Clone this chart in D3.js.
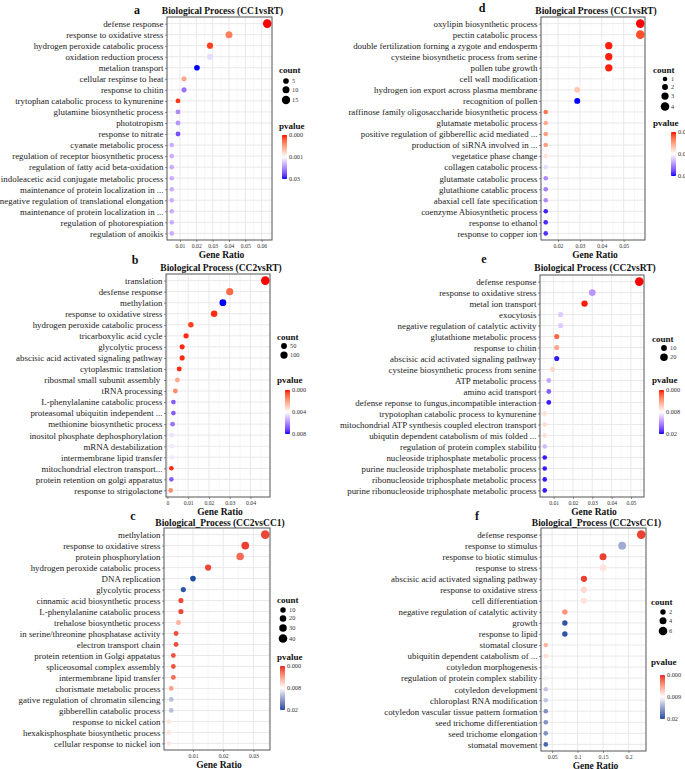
<!DOCTYPE html>
<html><head><meta charset="utf-8">
<script src="https://cdn.jsdelivr.net/npm/d3@7"></script>
<style>body{margin:0;background:#fff} svg{display:block;overflow:hidden} text{white-space:pre}</style>
</head><body><svg id="chart" width="685" height="769"></svg>
<script>
// ---------------- DATA ----------------
const catsA = ["defense response","response to oxidative stress","hydrogen peroxide catabolic process","oxidation reduction process","metalion transport","cellular respinse to heat","response to chitin","trytophan catabolic process to kynurenine","glutamine biosynthetic process","phototropism","response to nitrate","cyanate metabolic process","regulation of receptor biosynthetic process","regulation of fatty acid beta-oxidation","indoleacetic acid conjugate metabolic process","maintenance of protein localization in ...","negative regulation of translational elongation","maintenance of protein localization in ...","regulation of photorespiation","regulation of anoikis"];
const ratioA = [0.0634,0.0400,0.0284,0.0284,0.0204,0.0125,0.0125,0.0088,0.0088,0.0088,0.0088,0.0050,0.0050,0.0050,0.0050,0.0050,0.0050,0.0050,0.0050,0.0050];
const countA = [16,10,7,7,5,3,3,2,2,2,2,1,1,1,1,1,1,1,1,1];
const pvalA = [0.0000,0.00035,0.0001,0.0054,0.0300,0.00055,0.0184,0.00008,0.0155,0.0140,0.0228,0.011,0.011,0.011,0.011,0.011,0.011,0.011,0.011,0.011];
const xTicksA = [0.01,0.02,0.03,0.04,0.05,0.06];
const pDomainA = [0,0.001,0.03];
const pLabelsA = ["0.000","0.001","0.03"];
const countLegA = [5,10,15];

const catsB = ["translation","desfense response","methylation","response to oxidative stress","hydrogen peroxide catabolic process","tricarboxylic acid cycle","glycolytic process","abscisic acid activated signaling pathway","cytoplasmic translation","ribosmal small subunit assembly ","tRNA processing","L-phenylalanine catabolic process","proteasomal ubiquitin independent ...","methionine biosynthetic process","inositol phosphate dephosphorylation","mRNA destabilization","intermembrane lipid transfer","mitochondrial electron transport...","protein retention on golgi apparatus","response to strigolactone"];
const ratioB = [0.0471,0.0300,0.0267,0.0225,0.0113,0.0090,0.0071,0.0071,0.0057,0.0048,0.0038,0.0029,0.0029,0.0025,0.0021,0.0021,0.0021,0.0019,0.0019,0.0016];
const countB = [147,94,83,70,35,28,22,22,18,15,12,9,9,8,7,7,7,6,6,5];
const pvalB = [0.0000,0.0010,0.0080,0.0002,0.0004,0.0002,0.0002,0.0002,0.0002,0.0022,0.0016,0.0068,0.0068,0.0064,0.0045,0.0044,0.0044,0.0002,0.0068,0.0016];
const xTicksB = [0,0.01,0.02,0.03,0.04];
const pDomainB = [0,0.004,0.008];
const pLabelsB = ["0.000","0.004","0.008"];
const countLegB = [50,100];

const catsC = ["methylation","response to oxidative stress","protein phosphorylation","hydrogen peroxide catabolic process","DNA replication","glycolytic process","cinnamic acid biosynthetic process","L-phenylalanine catabolic process","trehalose biosynthetic process","in serine/threonine phosphatase activity","electron transport chain","protein retention in Golgi appatatus","spliceosomal complex assembly","intermembrane lipid transfer","chorismate metabolic process","gative regulation of chromatin silencing","gibberellin catabolic process","response to nickel cation","hexakisphosphate biosynthetic process","cellular response to nickel ion"];
const ratioC = [0.0339,0.0273,0.0256,0.0150,0.0100,0.0068,0.0060,0.0060,0.0052,0.0044,0.0044,0.0035,0.0035,0.0035,0.0028,0.0028,0.0028,0.0020,0.0020,0.0020];
const countC = [40,32,30,18,12,8,7,7,6,5,5,4,4,4,3,3,3,2,2,2];
const pvalC = [0.0008,0.0006,0.0020,0.0008,0.0200,0.0194,0.0008,0.0008,0.0048,0.0010,0.0010,0.0012,0.0012,0.0020,0.0040,0.0122,0.0122,0.0070,0.0070,0.0070];
const xTicksC = [0.01,0.02,0.03];
const pDomainC = [0,0.008,0.02];
const pLabelsC = ["0.000","0.008","0.02"];
const countLegC = [10,20,30,40];

const catsD = ["oxylipin biosynthetic process","pectin catabolic process","double fertilization forning a zygote and endosperm","cysteine biosynthetic process from serine","pollen tube growth","cell wall modification","hydrogen ion export across plasma membrane","recognition of pollen","raffinose family oligosaccharide biosynthetic process","glutamate metabolic process","positive regulation of gibberellic acid mediated ...","production of siRNA involved in ...","vegetatice phase change","collagen catabolic process","glutamate catabolic process","glutathione catablic process","abaxial cell fate specification","coenzyme Abiosynthetic process","response to ethanol","response to copper ion"];
const ratioD = [0.0576,0.0576,0.0432,0.0432,0.0432,0.0432,0.0288,0.0288,0.0144,0.0144,0.0144,0.0144,0.0144,0.0144,0.0144,0.0144,0.0144,0.0144,0.0144,0.0144];
const countD = [4,4,3,3,3,3,2,2,1,1,1,1,1,1,1,1,1,1,1,1];
const pvalD = [0.0000,0.0030,0.0006,0.0006,0.0006,0.0200,0.0140,0.0300,0.0060,0.0110,0.0100,0.0100,0.0170,0.0215,0.0250,0.0255,0.0250,0.0292,0.0290,0.0288];
const xTicksD = [0.02,0.03,0.04,0.05];
const pDomainD = [0,0.02,0.03];
const pLabelsD = ["0.000","0.02","0.03"];
const countLegD = [1,2,3,4];

const catsE = ["defense response","response to oxidative stress","metal ion transport","exocytosis","negative regulation of catalytic activity","glutathione metabolic process","response to chitin","abscisic acid activated signaling pathway","cysteine biosynthetic process from senine","ATP metabolic process","amino acid transport","defense reponse to fungus,incompatible interaction","trypotophan catabolic process to kynurenine","mitochondrial ATP synthesis coupled electron transport","ubiqutin dependent catabolism of mis folded ...","regulation of protein complex stabilitu","nucleoside triphosphate metabolic process","purine nucleoside triphosphate metabolic process","ribonucleoside triphosphate metabolic process","purine ribonucleoside triphosphate metabolic process"];
const ratioE = [0.0543,0.0300,0.0260,0.0136,0.0136,0.0116,0.0116,0.0116,0.0095,0.0075,0.0075,0.0075,0.0054,0.0054,0.0054,0.0054,0.0054,0.0054,0.0054,0.0054];
const countE = [26,15,13,7,7,6,6,6,5,4,4,4,3,3,3,3,3,3,3,3];
const pvalE = [0.0000,0.0134,0.0002,0.0106,0.0106,0.0020,0.0044,0.0194,0.0062,0.0126,0.0164,0.0194,0.0066,0.0066,0.0066,0.0116,0.0194,0.0194,0.0194,0.0194];
const xTicksE = [0.01,0.02,0.03,0.04,0.05];
const pDomainE = [0,0.008,0.02];
const pLabelsE = ["0.000","0.008","0.02"];
const countLegE = [10,20];

const catsF = ["defense response","response to stimulus","response to biotic stimulus","response to stress","abscisic acid activated signaling pathway","response to oxidative stress","cell differentiation","negative regulation of catalytic activity","growth","response to lipid","stomatal closure","ubiquitin dependent catabolism of ...","cotyledon morphogenesis","regulation of protein complex stability","cotyledon development","chloroplast RNA modification","cotyledon vascular tissue pattern formation","seed trichome differentiation","seed trichome elongation","stomatal movement"];
const ratioF = [0.2250,0.1875,0.1500,0.1500,0.1125,0.1125,0.1125,0.0750,0.0750,0.0750,0.0375,0.0375,0.0375,0.0375,0.0375,0.0375,0.0375,0.0375,0.0375,0.0375];
const countF = [6,5,4,4,3,3,3,2,2,2,1,1,1,1,1,1,1,1,1,1];
const pvalF = [0.0007,0.0140,0.0007,0.0077,0.0007,0.0072,0.0077,0.0040,0.0195,0.0195,0.0054,0.0074,0.0099,0.0097,0.0123,0.0123,0.0156,0.0156,0.0156,0.0184];
const xTicksF = [0.05,0.1,0.15,0.2];
const pDomainF = [0,0.009,0.02];
const pLabelsF = ["0.000","0.009","0.02"];
const countLegF = [2,4,6];

const titles = ["Biological Process (CC1vsRT)","Biological Process (CC2vsRT)","Biological_Process (CC2vsCC1)","Biological Process (CC1vsRT)","Biological Process (CC2vsRT)","Biological_Process (CC2vsCC1)"];
const letters = ["a","b","c","d","e","f"];

// ---------------- LAYOUT / STYLE ----------------
const SERIF = "'Liberation Serif','Times New Roman',serif";
const pureRB = ["#FF0000","#0000FF"];
const mutedRB = ["#E52521","#1D4E9E"];

const panels = [
  {cats:catsA, ratio:ratioA, count:countA, pval:pvalA, xt:xTicksA, pd:pDomainA, pl:pLabelsA, cl:countLegA, col:pureRB,
   L:{left:167,right:272,top:17,bottom:240, lx:279, ctY:73, dcx:286, d0:81, ptY:129, bx:282, bt:135, letter:[137,14], titleY:14}},
  {cats:catsB, ratio:ratioB, count:countB, pval:pvalB, xt:xTicksB, pd:pDomainB, pl:pLabelsB, cl:countLegB, col:pureRB,
   L:{left:166,right:270,top:274,bottom:497, lx:277, ctY:340, dcx:284, d0:346, ptY:383, bx:285, bt:390, letter:[135,264], titleY:271}},
  {cats:catsC, ratio:ratioC, count:countC, pval:pvalC, xt:xTicksC, pd:pDomainC, pl:pLabelsC, cl:countLegC, col:mutedRB,
   L:{left:164,right:270,top:528,bottom:750, lx:277, ctY:603, dcx:283, d0:610, ptY:660, bx:280, bt:666, letter:[133,520], titleY:526}},
  {cats:catsD, ratio:ratioD, count:countD, pval:pvalD, xt:xTicksD, pd:pDomainD, pl:pLabelsD, cl:countLegD, col:pureRB,
   L:{left:541,right:645,top:17,bottom:240, lx:653, ctY:73, dcx:665, d0:79, ptY:126, bx:671, bt:132, letter:[482,12], titleY:14}},
  {cats:catsE, ratio:ratioE, count:countE, pval:pvalE, xt:xTicksE, pd:pDomainE, pl:pLabelsE, cl:countLegE, col:pureRB,
   L:{left:540,right:644,top:275,bottom:497, lx:652, ctY:342, dcx:664, d0:348, ptY:383, bx:659, bt:390, letter:[484,263], titleY:271}},
  {cats:catsF, ratio:ratioF, count:countF, pval:pvalF, xt:xTicksF, pd:pDomainF, pl:pLabelsF, cl:countLegF, col:mutedRB,
   L:{left:541,right:646,top:528,bottom:751, lx:651, ctY:605, dcx:663, d0:612, ptY:665, bx:660, bt:675, letter:[477,520], titleY:526}}
];

const svg = d3.select("#chart");
const defs = svg.append("defs");
svg.append("rect").attr("width",685).attr("height",769).attr("fill","#fff");

panels.forEach((P, pi) => {
  const L = P.L;
  const g = svg.append("g");
  const n = P.cats.length;
  const ext = d3.extent(P.ratio);
  const pad = (ext[1]-ext[0])*0.05;
  const x = d3.scaleLinear().domain([ext[0]-pad, ext[1]+pad]).range([L.left, L.right]);
  const y = d3.scalePoint().domain(d3.range(n)).range([L.top, L.bottom]).padding(0.6);
  const cext = d3.extent(P.count);
  const dMin = 4.6, dMax = 8.6;
  const diam = c => dMin + (dMax-dMin)*((c-cext[0])/(cext[1]-cext[0]||1));
  const color = d3.scaleLinear().domain(P.pd).range([P.col[0],"#FFFFFF",P.col[1]]).interpolate(d3.interpolateLab).clamp(true);

  g.append("rect").attr("x",L.left).attr("y",L.top).attr("width",L.right-L.left).attr("height",L.bottom-L.top).attr("fill","#fff");
  const xd = x.domain();
  const minors = [];
  const step = P.xt[1]-P.xt[0];
  for (let i=-1;i<P.xt.length;i++){
    const m = (i<0? P.xt[0]-step/2 : P.xt[i]+step/2);
    if (m>xd[0] && m<xd[1]) minors.push(m);
  }
  g.selectAll(".minor").data(minors).join("line")
    .attr("x1",d=>x(d)).attr("x2",d=>x(d)).attr("y1",L.top).attr("y2",L.bottom)
    .attr("stroke","#f2f2f2").attr("stroke-width",0.6);
  g.selectAll(".majorx").data(P.xt.filter(t=>t>xd[0]&&t<xd[1])).join("line")
    .attr("x1",d=>x(d)).attr("x2",d=>x(d)).attr("y1",L.top).attr("y2",L.bottom)
    .attr("stroke","#e6e6e6").attr("stroke-width",0.9);
  g.selectAll(".majory").data(d3.range(n)).join("line")
    .attr("x1",L.left).attr("x2",L.right).attr("y1",d=>y(d)).attr("y2",d=>y(d))
    .attr("stroke","#e6e6e6").attr("stroke-width",0.9);

  g.selectAll("circle.pt").data(d3.range(n)).join("circle")
    .attr("cx",i=>x(P.ratio[i])).attr("cy",i=>y(i))
    .attr("r",i=>diam(P.count[i])/2).attr("fill",i=>color(P.pval[i]));

  g.append("rect").attr("x",L.left).attr("y",L.top).attr("width",L.right-L.left).attr("height",L.bottom-L.top)
    .attr("fill","none").attr("stroke","#555").attr("stroke-width",1);

  const xa = g.append("g").attr("transform",`translate(0,${L.bottom})`)
    .call(d3.axisBottom(x).tickValues(P.xt).tickSize(2).tickPadding(2).tickFormat(d=>String(+d.toFixed(4))));
  xa.select(".domain").remove();
  xa.selectAll("line").attr("stroke","#444").attr("stroke-width",0.6);
  xa.selectAll("text").attr("font-family",SERIF).attr("font-size",5.7).attr("fill","#333");

  const ya = g.append("g").attr("transform",`translate(${L.left},0)`)
    .call(d3.axisLeft(y).tickSize(2).tickPadding(1.5).tickFormat(i=>P.cats[i]));
  ya.select(".domain").remove();
  ya.selectAll("line").attr("stroke","#444").attr("stroke-width",0.6);
  ya.selectAll("text").attr("font-family",SERIF).attr("font-size",8.9).attr("fill","#1a1a1a");

  const cx = (L.left+L.right)/2;
  g.append("text").attr("x",cx+2).attr("y",L.bottom+18).attr("text-anchor","middle")
    .attr("font-family",SERIF).attr("font-weight","bold").attr("font-size",9.5).attr("fill","#111").text("Gene Ratio");
  g.append("text").attr("x",cx+3).attr("y",L.titleY).attr("text-anchor","middle")
    .attr("font-family",SERIF).attr("font-weight","bold").attr("font-size",9.5).attr("fill","#111").text(titles[pi]);
  g.append("text").attr("x",L.letter[0]).attr("y",L.letter[1]).attr("text-anchor","middle")
    .attr("font-family",SERIF).attr("font-weight","bold").attr("font-size",12).attr("fill","#111").text(letters[pi]);

  g.append("text").attr("x",L.lx).attr("y",L.ctY).attr("font-family",SERIF).attr("font-weight","bold")
    .attr("font-size",9).attr("fill","#111").text("count");
  let yy = L.d0, prevR = null;
  P.cl.forEach((c,k) => {
    const r = diam(c)/2;
    if (prevR!==null) yy += Math.max(8, prevR + r + 2.5);
    g.append("circle").attr("cx",L.dcx).attr("cy",yy).attr("r",r).attr("fill","#000");
    g.append("text").attr("x",L.dcx+6).attr("y",yy+2).attr("font-family",SERIF).attr("font-size",6.3)
      .attr("fill","#333").text(c);
    prevR = r;
  });

  g.append("text").attr("x",L.lx).attr("y",L.ptY).attr("font-family",SERIF).attr("font-weight","bold")
    .attr("font-size",9).attr("fill","#111").text("pvalue");
  const gid = "grad"+pi;
  const grad = defs.append("linearGradient").attr("id",gid).attr("x1",0).attr("y1",0).attr("x2",0).attr("y2",1);
  d3.range(21).forEach(k => {
    const t = k/20;
    const v = t<=0.5 ? P.pd[0]+(P.pd[1]-P.pd[0])*t*2 : P.pd[1]+(P.pd[2]-P.pd[1])*(t-0.5)*2;
    grad.append("stop").attr("offset",t).attr("stop-color",color(v));
  });
  const bw = 5, bh = 44;
  g.append("rect").attr("x",L.bx).attr("y",L.bt).attr("width",bw).attr("height",bh).attr("fill",`url(#${gid})`);
  P.pl.forEach((lab,k) => {
    const ty = L.bt + bh*k/2;
    g.append("line").attr("x1",L.bx).attr("x2",L.bx+1).attr("y1",ty).attr("y2",ty).attr("stroke","#fff").attr("stroke-width",0.5);
    g.append("line").attr("x1",L.bx+bw-1).attr("x2",L.bx+bw).attr("y1",ty).attr("y2",ty).attr("stroke","#fff").attr("stroke-width",0.5);
    g.append("text").attr("x",L.bx+bw+2).attr("y",ty+2).attr("font-family",SERIF).attr("font-size",6.3)
      .attr("fill","#333").text(lab);
  });
});
</script>
</body></html>
